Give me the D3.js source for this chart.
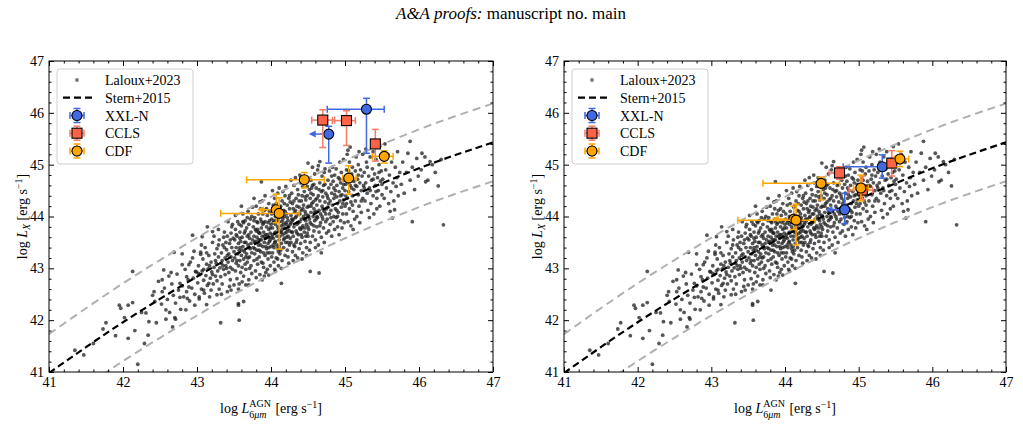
<!DOCTYPE html>
<html lang="en">
<head>
<meta charset="UTF-8">
<title>L_X vs L_6um</title>
<script src="https://d3js.org/d3.v7.min.js"></script>
<style>
  body { margin: 0; background: #fff; }
  svg { display: block; font-family: "Liberation Serif", "DejaVu Serif", serif; }
</style>
</head>
<body>
<div id="chart"></div>
<script>
// axis ticks
const xTicks = [41, 42, 43, 44, 45, 46, 47];
const yTicks = [41, 42, 43, 44, 45, 46, 47];

// Stern+2015 relation and the dashed band around it, read at 0.5 dex steps
const sternX = [41, 41.5, 42, 42.5, 43, 43.5, 44, 44.5, 45, 45.5, 46, 46.5, 47];
const sternY = [40.98, 41.48, 41.96, 42.41, 42.84, 43.25, 43.63, 43.99, 44.33, 44.64, 44.93, 45.19, 45.43];
const sternUp = [41.73, 42.23, 42.71, 43.16, 43.59, 44.00, 44.38, 44.74, 45.08, 45.39, 45.68, 45.94, 46.18];
const sternLo = [40.23, 40.73, 41.21, 41.66, 42.09, 42.50, 42.88, 43.24, 43.58, 43.89, 44.18, 44.44, 44.68];

// Laloux+2023 sample (log L6um, log LX), estimated from the figure
const laloux = [
  [41.47,41.33],[42.20,41.15],[41.77,41.95],[41.73,41.83],[42.07,41.65],[42.16,41.80],[42.29,41.55],[42.34,41.71],
  [41.95,42.29],[41.97,42.23],[42.07,42.29],[42.13,42.34],[42.13,42.94],[42.35,41.97],[42.58,42.02],[42.58,42.20],
  [42.31,42.14],[42.43,42.36],[42.42,42.55],[42.53,42.55],[42.53,42.78],[42.55,42.97],[42.71,42.02],[42.67,41.87],
  [42.77,42.44],[42.77,42.71],[42.65,42.92],[42.80,43.07],[42.80,43.28],[42.69,43.31],[42.86,42.84],[42.89,42.64],
  [42.87,42.42],[42.97,42.29],[42.89,43.07],[42.96,43.33],[42.98,42.94],[42.94,43.64],[43.05,43.27],[43.07,43.61],
  [43.14,43.80],[43.21,43.71],[43.03,42.45],[43.09,42.58],[43.16,42.71],[43.27,42.49],[43.32,41.95],[43.46,42.58],
  [43.57,42.00],[43.56,42.32],[43.61,42.74],[43.70,42.68],[43.81,42.58],[43.88,42.78],[43.97,42.87],[44.06,42.94],
  [46.33,43.84],[45.91,43.90],[46.26,44.59],[45.88,45.45],[46.04,45.22],[46.15,45.06],[46.09,44.67],[45.64,43.97],
  [45.67,44.13],[44.53,42.94],[44.65,42.91],[44.14,42.71],[43.63,42.36],[43.56,42.29],[43.87,44.67],[44.50,45.03],
  [44.66,45.06],[45.04,45.28],[45.07,45.34],[41.35,41.42],[41.60,41.55],[41.90,41.70],[42.02,42.05],[42.25,42.15],
  [42.40,42.48],[42.45,41.95],[42.48,42.75],
  [42.52,42.31],[42.56,42.62],[42.60,42.40],[42.63,42.15],[42.66,42.70],[42.68,42.48],[42.71,42.33],[42.73,42.89],
  [42.75,42.58],[42.78,42.21],[42.80,42.66],[42.82,42.45],[42.84,42.98],[42.86,42.55],[42.88,42.78],[42.90,42.37],
  [42.91,43.12],[42.93,42.62],[42.95,42.81],[42.97,42.50],[42.99,42.93],[42.62,42.85],[42.70,42.05],[42.85,42.20],[42.94,43.20],
  [43.01,42.72],[43.02,43.05],[43.03,42.41],[43.04,42.88],[43.05,43.31],[43.06,42.60],[43.07,42.95],[43.08,43.18],
  [43.09,42.77],[43.10,42.52],[43.11,43.40],[43.12,42.86],[43.13,43.08],[43.14,42.67],[43.15,42.99],[43.16,43.25],
  [43.17,42.45],[43.18,42.81],[43.19,43.12],[43.20,42.93],[43.21,43.50],[43.22,42.70],[43.23,43.02],[43.24,43.28],
  [43.25,42.85],[43.06,43.45],[43.13,42.30],[43.19,42.58],[43.23,43.62],[43.02,42.90],
  [43.26,43.10],[43.27,42.76],[43.27,43.38],[43.28,42.95],[43.29,43.22],[43.30,42.60],[43.30,43.55],[43.31,43.01],
  [43.32,42.84],[43.33,43.30],[43.34,43.15],[43.34,42.70],[43.35,43.45],[43.36,42.98],[43.37,43.70],[43.38,43.20],
  [43.38,42.88],[43.39,43.05],[43.40,43.36],[43.41,42.55],[43.41,43.62],[43.42,43.12],[43.43,42.92],[43.43,43.28],
  [43.44,43.48],[43.45,43.02],[43.45,42.78],[43.46,43.22],[43.47,43.80],[43.47,43.40],[43.48,42.98],[43.48,43.15],
  [43.49,43.58],[43.50,42.68],[43.50,43.32],[43.29,43.75],[43.33,42.50],[43.36,43.60],[43.40,43.00],[43.42,43.90],
  [43.44,42.65],[43.46,43.68],[43.35,43.05],[43.39,43.50],[43.48,43.85],
  [43.51,43.20],[43.51,43.55],[43.52,42.95],[43.52,43.75],[43.53,43.10],[43.53,43.40],[43.54,42.80],[43.54,43.62],
  [43.55,43.28],[43.55,43.90],[43.56,43.05],[43.56,43.48],[43.57,42.70],[43.57,43.35],[43.58,43.70],[43.58,43.15],
  [43.59,43.52],[43.59,42.92],[43.60,43.82],[43.60,43.25],[43.61,43.60],[43.61,43.02],[43.62,43.42],[43.62,44.05],
  [43.63,43.18],[43.63,42.85],[43.64,43.68],[43.64,43.32],[43.65,43.92],[43.65,43.08],[43.66,43.50],[43.66,42.98],
  [43.67,43.78],[43.67,43.28],[43.68,43.62],[43.68,43.12],[43.69,44.10],[43.69,43.45],[43.70,42.78],[43.70,43.85],
  [43.71,43.22],[43.71,43.58],[43.72,43.38],[43.72,43.95],[43.73,43.05],[43.73,43.70],[43.74,43.30],[43.74,42.90],
  [43.75,43.55],[43.75,44.18],[43.52,44.02],[43.56,42.60],[43.60,44.20],[43.63,43.88],[43.66,42.68],[43.68,43.98],
  [43.71,43.00],[43.58,43.40],[43.64,43.50],[43.70,43.40],
  [43.76,43.40],[43.76,43.80],[43.77,43.15],[43.77,43.62],[43.78,43.98],[43.78,43.28],[43.79,43.52],[43.79,42.95],
  [43.80,43.72],[43.80,44.20],[43.81,43.35],[43.81,43.60],[43.82,43.08],[43.82,43.88],[43.83,43.45],[43.83,44.05],
  [43.84,43.22],[43.84,43.68],[43.85,42.88],[43.85,43.55],[43.86,43.95],[43.86,43.32],[43.87,43.78],[43.87,43.12],
  [43.88,43.62],[43.88,44.30],[43.89,43.42],[43.89,43.85],[43.90,43.02],[43.90,43.70],[43.91,43.50],[43.91,44.12],
  [43.92,43.25],[43.92,43.90],[43.93,43.58],[43.93,42.92],[43.94,43.80],[43.94,43.38],[43.95,44.02],[43.95,43.65],
  [43.96,43.18],[43.96,43.48],[43.97,44.25],[43.97,43.75],[43.98,43.30],[43.98,43.92],[43.99,43.55],[43.99,43.05],
  [44.00,43.85],[44.00,43.42],[43.77,44.35],[43.80,42.82],[43.83,43.70],[43.86,44.15],[43.89,43.10],[43.92,44.40],
  [43.95,42.98],[43.98,44.10],[43.78,43.50],[43.81,43.90],[43.84,43.35],[43.87,43.55],[43.90,43.30],[43.93,43.65],
  [43.96,43.88],[43.99,43.68],[43.79,43.75],[43.85,44.28],[43.91,42.85],[43.97,43.40],
  [44.01,43.60],[44.01,44.05],[44.02,43.30],[44.02,43.78],[44.03,44.22],[44.03,43.45],[44.04,43.92],[44.04,43.12],
  [44.05,43.68],[44.05,44.35],[44.06,43.52],[44.06,43.85],[44.07,43.20],[44.07,44.10],[44.08,43.62],[44.08,43.98],
  [44.09,43.38],[44.09,44.45],[44.10,43.75],[44.10,43.05],[44.11,43.90],[44.11,43.55],[44.12,44.18],[44.12,43.28],
  [44.13,43.70],[44.13,44.02],[44.14,43.48],[44.14,43.82],[44.15,44.30],[44.15,43.15],[44.16,43.65],[44.16,43.95],
  [44.17,43.40],[44.17,44.12],[44.18,43.78],[44.18,43.58],[44.19,44.40],[44.19,43.25],[44.20,43.88],[44.20,43.50],
  [44.21,44.05],[44.21,43.70],[44.22,43.35],[44.22,44.22],[44.23,43.92],[44.23,43.62],[44.24,43.10],[44.24,43.80],
  [44.25,44.15],[44.25,43.45],[44.02,44.50],[44.05,42.98],[44.08,43.45],[44.11,44.55],[44.14,43.00],[44.17,43.85],
  [44.20,44.58],[44.23,43.22],[44.03,43.88],[44.06,43.70],[44.09,43.18],[44.12,43.62],[44.15,43.90],[44.18,44.00],
  [44.21,43.60],[44.24,44.35],[44.04,43.40],[44.07,44.25],[44.10,43.95],[44.13,43.35],[44.16,44.48],[44.19,43.68],
  [44.22,43.98],[44.25,43.72],[44.01,43.22],
  [44.26,43.85],[44.26,44.28],[44.27,43.50],[44.27,44.02],[44.28,43.70],[44.28,44.45],[44.29,43.32],[44.29,43.92],
  [44.30,44.15],[44.30,43.62],[44.31,44.60],[44.31,43.80],[44.32,43.42],[44.32,44.08],[44.33,43.98],[44.33,43.25],
  [44.34,44.35],[44.34,43.72],[44.35,44.20],[44.35,43.55],[44.36,43.88],[44.36,44.52],[44.37,43.65],[44.37,44.05],
  [44.38,43.38],[44.38,44.30],[44.39,43.90],[44.39,43.78],[44.40,44.65],[44.40,43.48],[44.41,44.12],[44.41,43.95],
  [44.42,43.60],[44.42,44.40],[44.43,43.82],[44.43,43.30],[44.44,44.22],[44.44,44.00],[44.45,43.70],[44.45,44.48],
  [44.46,43.52],[44.46,44.10],[44.47,43.92],[44.47,44.32],[44.48,43.40],[44.48,43.85],[44.49,44.18],[44.49,44.58],
  [44.50,43.62],[44.50,44.02],[44.27,44.70],[44.30,43.15],[44.33,44.75],[44.36,43.20],[44.39,44.80],[44.42,43.18],
  [44.45,44.75],[44.48,43.25],[44.28,43.95],[44.31,43.45],[44.34,44.00],[44.37,44.42],[44.40,43.75],[44.43,44.15],
  [44.46,43.78],[44.49,43.68],[44.29,44.25],[44.35,43.85],[44.41,43.65],[44.47,44.05],
  [44.51,44.20],[44.51,43.75],[44.52,44.52],[44.52,43.95],[44.53,43.50],[44.53,44.35],[44.54,44.08],[44.54,44.70],
  [44.55,43.85],[44.55,44.25],[44.56,43.62],[44.56,44.60],[44.57,44.00],[44.57,44.42],[44.58,43.72],[44.58,44.15],
  [44.59,44.82],[44.59,43.92],[44.60,44.32],[44.60,43.55],[44.61,44.10],[44.61,44.55],[44.62,43.80],[44.62,44.22],
  [44.63,44.90],[44.63,43.98],[44.64,43.45],[44.64,44.40],[44.65,44.12],[44.65,43.70],[44.66,44.65],[44.66,44.30],
  [44.67,43.88],[44.67,44.05],[44.68,44.48],[44.68,43.60],[44.69,44.20],[44.69,44.78],[44.70,43.95],[44.70,44.38],
  [44.71,43.78],[44.71,44.60],[44.72,44.10],[44.72,43.50],[44.73,44.28],[44.73,44.92],[44.74,43.90],[44.74,44.45],
  [44.75,44.15],[44.75,43.68],[44.52,43.35],[44.56,44.95],[44.60,43.40],[44.64,44.98],[44.68,43.30],[44.72,44.85],
  [44.54,44.45],[44.58,43.82],[44.62,44.00],[44.70,44.15],
  [44.76,44.40],[44.76,43.95],[44.77,44.70],[44.77,44.18],[44.78,43.72],[44.78,44.55],[44.79,44.05],[44.79,44.88],
  [44.80,44.30],[44.80,43.85],[44.81,44.62],[44.81,44.12],[44.82,43.62],[44.82,44.45],[44.83,44.95],[44.83,44.22],
  [44.84,43.90],[44.84,44.68],[44.85,44.35],[44.85,44.00],[44.86,44.80],[44.86,43.75],[44.87,44.50],[44.87,44.15],
  [44.88,44.92],[44.88,43.98],[44.89,44.38],[44.89,44.60],[44.90,43.80],[44.90,44.25],[44.91,44.75],[44.91,44.08],
  [44.92,43.65],[44.92,44.48],[44.93,45.05],[44.93,44.30],[44.94,43.92],[44.94,44.65],[44.95,44.18],[44.95,44.85],
  [44.96,44.42],[44.96,43.78],[44.97,44.55],[44.97,44.05],[44.98,45.10],[44.98,44.32],[44.99,43.88],[44.99,44.70],
  [45.00,44.20],[45.00,44.50],
  [45.01,44.62],[45.02,44.05],[45.02,44.90],[45.03,44.35],[45.04,43.90],[45.04,44.75],[45.05,44.48],[45.06,44.15],
  [45.06,45.05],[45.07,44.60],[45.08,44.28],[45.08,43.82],[45.09,44.82],[45.10,44.40],[45.10,44.95],[45.11,44.10],
  [45.12,44.68],[45.12,44.52],[45.13,43.95],[45.14,44.88],[45.14,44.30],[45.15,45.15],[45.16,44.58],[45.16,44.00],
  [45.17,44.72],[45.18,44.42],[45.18,45.00],[45.19,44.20],[45.20,44.65],[45.20,43.88],[45.21,44.90],[45.22,44.50],
  [45.22,44.08],[45.23,44.78],[45.24,44.35],[45.24,45.20],[45.25,44.60],[45.03,45.20],[45.11,43.75],[45.19,45.25],
  [45.26,44.85],[45.27,44.30],[45.28,44.65],[45.29,45.05],[45.30,44.45],[45.31,44.12],[45.32,44.78],[45.33,44.55],
  [45.34,45.15],[45.35,44.25],[45.36,44.70],[45.37,44.92],[45.38,44.40],[45.39,44.05],[45.40,44.82],[45.41,44.60],
  [45.42,45.10],[45.43,44.35],[45.44,44.75],[45.45,44.50],[45.46,45.00],[45.47,44.20],[45.48,44.68],[45.49,44.88],
  [45.50,44.42],[45.28,45.30],[45.33,43.98],[45.38,45.25],[45.43,44.15],[45.47,45.35],
  [45.51,44.72],[45.52,45.10],[45.53,44.35],[45.55,44.90],[45.56,44.55],[45.58,45.20],[45.59,44.25],[45.60,44.80],
  [45.62,44.48],[45.63,45.05],[45.65,44.65],[45.66,44.30],[45.68,44.95],[45.69,44.58],[45.71,45.25],[45.72,44.40],
  [45.74,44.85],[45.54,45.40],[45.61,44.10],[45.70,44.75],
  [45.76,44.62],[45.78,45.05],[45.80,44.45],[45.83,44.85],[45.85,45.22],[45.88,44.70],[45.91,44.95],[45.94,44.52],
  [45.97,45.12],[45.99,44.78],
  [46.03,44.90],[46.08,45.15],[46.12,44.70],[46.18,45.00],[46.22,44.85],[46.30,45.10],
  [43.53,43.65],[43.57,43.85],[43.61,43.35],[43.65,43.72],[43.69,43.20],[43.73,43.48],[43.77,43.92],[43.81,43.18],
  [43.85,43.68],[43.89,44.05],[43.93,43.42],[43.97,43.60],[44.01,43.95],[44.05,43.50],[44.09,43.80],[44.13,44.20],
  [44.17,43.55],[44.21,43.85],[44.25,44.40],[44.29,43.70],[44.33,44.12],[44.37,43.88],[44.41,44.30],[44.45,43.95],
  [44.49,44.40],[44.53,43.88],[44.57,44.28],[44.61,43.95],[44.65,44.52],[44.69,44.00],[44.73,44.62],[44.77,44.35],
  [44.81,43.98],[44.85,44.55],[44.89,44.12],[44.93,44.72],[44.97,44.25],[45.01,44.40],[45.05,44.88],[45.09,44.55],
  [43.54,43.15],[43.58,43.58],[43.62,43.90],[43.66,43.22],[43.70,43.65],[43.74,44.00],[43.78,43.38],[43.82,43.75],
  [43.86,43.45],[43.90,43.88],[43.94,44.15],[43.98,43.52],[44.02,43.65],[44.06,44.00],[44.10,43.32],[44.14,43.70],
  [44.18,44.25],[44.22,43.75],[44.26,43.58],[44.30,43.95],[44.34,43.50],[44.38,44.18],[44.42,43.78],[44.46,44.38],
  [44.50,43.80],[44.54,44.20],[44.58,44.62],[44.62,44.35],[44.66,43.82],[44.70,44.50],[44.74,44.05],[44.78,44.25],
  [44.82,44.78],[44.86,44.42],[44.90,44.00],[44.94,44.40],[44.98,44.62],[45.02,44.25],[45.06,44.70],[45.10,44.22],
  [43.45,43.55],[43.41,43.25],[43.37,43.40],[43.33,43.10],[43.29,43.45],[43.25,43.15],[43.21,42.88],[43.17,43.05],
  [43.13,43.30],[43.09,42.98],[45.14,44.60],[45.18,44.80],[45.22,44.30],[45.26,44.55],[45.30,44.95],[45.34,44.50],
  [45.38,44.72],[45.42,44.48],[45.46,44.85],[45.50,44.62],[44.03,43.58],[44.07,43.92],[44.11,43.42],[44.15,43.75],
  [44.19,44.10],[44.23,43.50],[44.27,43.88],[44.31,44.30],[44.35,43.68],[44.39,44.05],[43.83,43.55],[43.87,43.90],
  [43.91,43.62],[43.95,43.30],[43.99,43.78],[44.43,44.58],[44.47,43.62],[44.51,44.00],[44.55,44.55],[44.59,44.08]
];

// left panel: x, y, asymmetric errors; xul = upper limit in x (arrow)
const xxlLeft = [
  { x: 45.29, y: 46.07, exLo: 0.53, exHi: 0.24, eyLo: 0.85, eyHi: 0.21 },
  { x: 44.78, y: 45.59, exLo: 0.27, exHi: 0, eyLo: 0.56, eyHi: 0.15, xul: true }
];
const cclsLeft = [
  { x: 44.70, y: 45.86, exLo: 0.15, exHi: 0.16, eyLo: 0.53, eyHi: 0.20 },
  { x: 45.02, y: 45.85, exLo: 0.19, exHi: 0.12, eyLo: 0.48, eyHi: 0.19 },
  { x: 45.41, y: 45.40, exLo: 0, exHi: 0, eyLo: 0.33, eyHi: 0.28 }
];
const cdfLeft = [
  { x: 45.53, y: 45.16, exLo: 0.16, exHi: 0.12, eyLo: 0.13, eyHi: 0.11 },
  { x: 45.05, y: 44.74, exLo: 0.08, exHi: 0.10, eyLo: 0.31, eyHi: 0.24 },
  { x: 44.45, y: 44.71, exLo: 0.78, exHi: 0.27, eyLo: 0.16, eyHi: 0.14 },
  { x: 44.07, y: 44.13, exLo: 0.26, exHi: 0, eyLo: 0.25, eyHi: 0.30, xul: true },
  { x: 44.11, y: 44.06, exLo: 0.79, exHi: 0.27, eyLo: 0.69, eyHi: 0.30 }
];

// right panel
const xxlRight = [
  { x: 45.32, y: 44.96, exLo: 0.53, exHi: 0.05, eyLo: 0.22, eyHi: 0.23 },
  { x: 44.81, y: 44.13, exLo: 0.26, exHi: 0, eyLo: 0.27, eyHi: 0.32, xul: true }
];
const cclsRight = [
  { x: 45.45, y: 45.03, exLo: 0.07, exHi: 0.06, eyLo: 0.25, eyHi: 0.24 },
  { x: 44.74, y: 44.84, exLo: 0.14, exHi: 0.06, eyLo: 0.12, eyHi: 0.12 },
  { x: 45.05, y: 44.51, exLo: 0.18, exHi: 0.14, eyLo: 0.18, eyHi: 0.27 }
];
const cdfRight = [
  { x: 45.56, y: 45.11, exLo: 0.07, exHi: 0.12, eyLo: 0.15, eyHi: 0.15 },
  { x: 45.03, y: 44.55, exLo: 0.10, exHi: 0.10, eyLo: 0.25, eyHi: 0.25 },
  { x: 44.49, y: 44.64, exLo: 0.79, exHi: 0.25, eyLo: 0.32, eyHi: 0.12 },
  { x: 44.12, y: 43.95, exLo: 0.30, exHi: 0, eyLo: 0.20, eyHi: 0.25, xul: true },
  { x: 44.15, y: 43.93, exLo: 0.79, exHi: 0.26, eyLo: 0.48, eyHi: 0.31 }
];

const styles = {
  xxl: { label: "XXL-N", fill: "#4169e1", bar: "#4169e1", shape: "circle" },
  ccls: { label: "CCLS", fill: "#ff6347", bar: "#f77b66", shape: "square" },
  cdf: { label: "CDF", fill: "#ffa500", bar: "#ffa500", shape: "circle" }
};

const W = 1023, H = 425;
const plotTop = 61, plotBottom = 372;
const svg = d3.select("#chart").append("svg").attr("width", W).attr("height", H);

// page header
const head = svg.append("text").attr("x", 511).attr("y", 19)
  .attr("text-anchor", "middle").style("font-size", "17px");
head.append("tspan").style("font-style", "italic").text("A&A proofs:");
head.append("tspan").text(" manuscript no. main");

function drawMarker(g, cx, cy, st) {
  if (st.shape === "square") {
    g.append("rect").attr("x", cx - 5).attr("y", cy - 5).attr("width", 10).attr("height", 10)
      .attr("fill", st.fill).attr("stroke", "#000").attr("stroke-width", 1.1);
  } else {
    g.append("circle").attr("cx", cx).attr("cy", cy).attr("r", 5)
      .attr("fill", st.fill).attr("stroke", "#000").attr("stroke-width", 1.1);
  }
}

function drawErr(g, x, y, d, st) {
  const cx = x(d.x), cy = y(d.y), cap = 3.5;
  const e = g.append("g").attr("stroke", st.bar).attr("stroke-width", 1.5).attr("fill", "none");
  if (d.xul) {
    const x1 = x(d.x - d.exLo);
    e.append("line").attr("x1", x1 + 4).attr("x2", cx).attr("y1", cy).attr("y2", cy);
    g.append("path").attr("d", `M${x1},${cy}L${x1 + 7},${cy - 3.5}L${x1 + 7},${cy + 3.5}Z`).attr("fill", st.bar);
  } else if (d.exLo > 0 || d.exHi > 0) {
    const x1 = x(d.x - d.exLo), x2 = x(d.x + d.exHi);
    e.append("line").attr("x1", x1).attr("x2", x2).attr("y1", cy).attr("y2", cy);
    [x1, x2].forEach(xx => e.append("line").attr("x1", xx).attr("x2", xx).attr("y1", cy - cap).attr("y2", cy + cap));
  }
  const y1 = y(d.y - d.eyLo), y2 = y(d.y + d.eyHi);
  e.append("line").attr("x1", cx).attr("x2", cx).attr("y1", y1).attr("y2", y2);
  [y1, y2].forEach(yy => e.append("line").attr("x1", cx - cap).attr("x2", cx + cap).attr("y1", yy).attr("y2", yy));
  drawMarker(g, cx, cy, st);
}

function drawPanel(left, right, groups) {
  const x = d3.scaleLinear().domain([41, 47]).range([left, right]);
  const y = d3.scaleLinear().domain([41, 47]).range([plotBottom, plotTop]);
  const g = svg.append("g");
  const clipId = "clip" + left;
  g.append("clipPath").attr("id", clipId).append("rect")
    .attr("x", left).attr("y", plotTop).attr("width", right - left).attr("height", plotBottom - plotTop);
  const plot = g.append("g").attr("clip-path", `url(#${clipId})`);

  plot.append("g").selectAll("circle").data(laloux).join("circle")
    .attr("cx", d => x(d[0])).attr("cy", d => y(d[1])).attr("r", 1.9)
    .attr("fill", "#1e1e1e").attr("fill-opacity", 0.75);

  const line = d3.line().x((d, i) => x(sternX[i])).y(d => y(d)).curve(d3.curveNatural);
  [sternUp, sternLo].forEach(arr => plot.append("path").attr("d", line(arr))
    .attr("fill", "none").attr("stroke", "#b0b0b0").attr("stroke-width", 2).attr("stroke-dasharray", "8,5"));
  plot.append("path").attr("d", line(sternY))
    .attr("fill", "none").attr("stroke", "#000").attr("stroke-width", 2.2).attr("stroke-dasharray", "7,4");

  groups.forEach(([key, data]) => data.forEach(d => drawErr(plot, x, y, d, styles[key])));

  // axes with inward ticks on all four sides
  const minor = d3.range(41, 47.001, 0.2).map(v => +v.toFixed(1)).filter(v => !Number.isInteger(v));
  const ax = [
    [d3.axisBottom(x), `translate(0,${plotBottom})`, xTicks, true],
    [d3.axisTop(x), `translate(0,${plotTop})`, xTicks, false],
    [d3.axisLeft(y), `translate(${left},0)`, yTicks, true],
    [d3.axisRight(y), `translate(${right},0)`, yTicks, false]
  ];
  ax.forEach(([a, tr, ticks, labels]) => {
    g.append("g").attr("transform", tr)
      .call(a.tickValues(ticks).tickSize(-5).tickSizeOuter(0).tickPadding(labels ? 5 : 0)
        .tickFormat(labels ? d3.format("d") : ""))
      .call(s => s.select(".domain").remove())
      .call(s => s.selectAll("text").style("font-size", "14px").attr("fill", "#000")
        .style("font-family", '"Liberation Serif", serif'));
    g.append("g").attr("transform", tr)
      .call(a.tickValues(minor).tickSize(-2.5).tickFormat(""))
      .call(s => s.select(".domain").remove());
  });
  g.append("rect").attr("x", left).attr("y", plotTop).attr("width", right - left).attr("height", plotBottom - plotTop)
    .attr("fill", "none").attr("stroke", "#000").attr("stroke-width", 1);

  // x label: L with stacked superscript AGN and subscript 6μm
  const cx = (left + right) / 2;
  const xl = g.append("text").attr("x", cx).attr("y", 413).attr("text-anchor", "middle").style("font-size", "14px");
  xl.append("tspan").text("log ");
  xl.append("tspan").style("font-style", "italic").text("L");
  const sup = xl.append("tspan").attr("dy", -6).style("font-size", "10px").text("AGN");
  const supW = sup.node().getComputedTextLength();
  const sub = xl.append("tspan").attr("dx", -supW).attr("dy", 11).style("font-size", "10px");
  sub.append("tspan").text("6");
  sub.append("tspan").style("font-style", "italic").text("μm");
  const subW = sub.node().getComputedTextLength();
  xl.append("tspan").attr("dx", Math.max(0, supW - subW) + 1).attr("dy", -5).text(" [erg s");
  xl.append("tspan").attr("dy", -5).style("font-size", "10px").text("−1");
  xl.append("tspan").attr("dy", 5).text("]");

  // y label
  const yl = g.append("text").attr("transform", `translate(${left - 22},${(plotTop + plotBottom) / 2}) rotate(-90)`)
    .attr("text-anchor", "middle").style("font-size", "14px");
  yl.append("tspan").text("log ");
  yl.append("tspan").style("font-style", "italic").text("L");
  yl.append("tspan").attr("dy", 3).style("font-size", "10px").style("font-style", "italic").text("X");
  yl.append("tspan").attr("dy", -3).text(" [erg s");
  yl.append("tspan").attr("dy", -5).style("font-size", "10px").text("−1");
  yl.append("tspan").attr("dy", 5).text("]");

  // legend
  const lg = g.append("g").attr("transform", `translate(${left},0)`);
  lg.append("rect").attr("x", 8).attr("y", 69).attr("width", 136).attr("height", 95).attr("rx", 3)
    .attr("fill", "#fff").attr("fill-opacity", 0.8).attr("stroke", "#d0d0d0");
  const rows = [80, 97.7, 115.5, 133.2, 151];
  const labels = ["Laloux+2023", "Stern+2015", "XXL-N", "CCLS", "CDF"];
  labels.forEach((t, i) => lg.append("text").attr("x", 56).attr("y", rows[i] + 5)
    .style("font-size", "14px").text(t));
  lg.append("circle").attr("cx", 28).attr("cy", rows[0]).attr("r", 1.9).attr("fill", "#1e1e1e").attr("fill-opacity", 0.6);
  lg.append("line").attr("x1", 14).attr("x2", 43).attr("y1", rows[1]).attr("y2", rows[1])
    .attr("stroke", "#000").attr("stroke-width", 2.2).attr("stroke-dasharray", "7,4");
  ["xxl", "ccls", "cdf"].forEach((k, i) => {
    const st = styles[k], cy = rows[i + 2];
    const e = lg.append("g").attr("stroke", st.bar).attr("stroke-width", 1.5);
    e.append("line").attr("x1", 21).attr("x2", 35).attr("y1", cy).attr("y2", cy);
    e.append("line").attr("x1", 28).attr("x2", 28).attr("y1", cy - 7).attr("y2", cy + 7);
    [21, 35].forEach(xx => e.append("line").attr("x1", xx).attr("x2", xx).attr("y1", cy - 3.5).attr("y2", cy + 3.5));
    [cy - 7, cy + 7].forEach(yy => e.append("line").attr("x1", 24.5).attr("x2", 31.5).attr("y1", yy).attr("y2", yy));
    drawMarker(lg, 28, cy, st);
  });
}

drawPanel(49, 493, [["xxl", xxlLeft], ["ccls", cclsLeft], ["cdf", cdfLeft]]);
drawPanel(564, 1006, [["xxl", xxlRight], ["ccls", cclsRight], ["cdf", cdfRight]]);
</script>
</body>
</html>
